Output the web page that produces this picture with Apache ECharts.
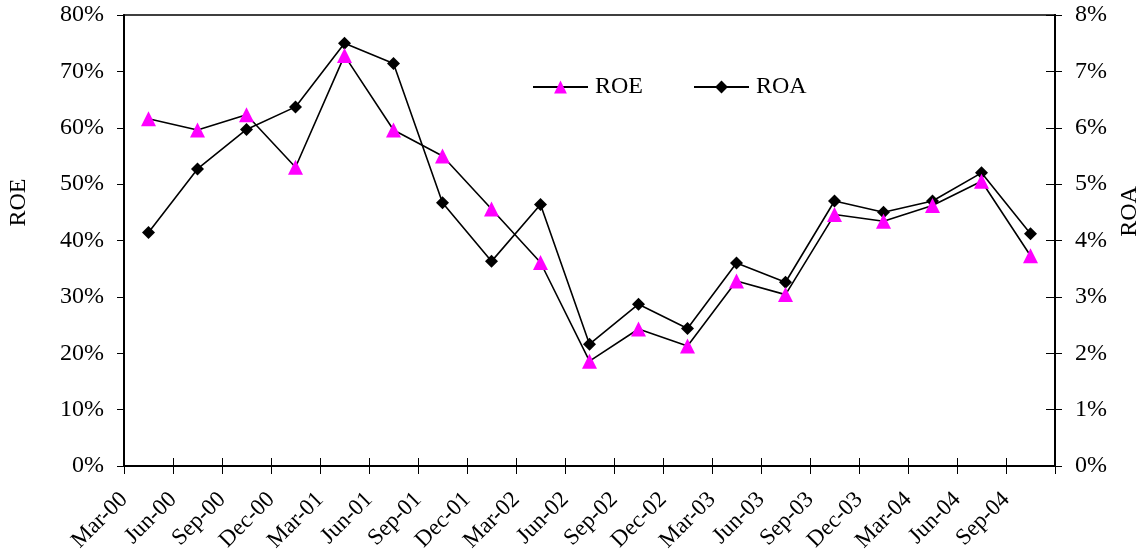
<!DOCTYPE html>
<html>
<head>
<meta charset="utf-8">
<script src="https://cdn.jsdelivr.net/npm/echarts@6/dist/echarts.min.js"></script>
<style>
html,body{margin:0;padding:0;background:#fff;}
#c{width:1147px;height:560px;}
</style>
</head>
<body>
<div id="c"></div>
<script>
const categories = ['Mar-00','Jun-00','Sep-00','Dec-00','Mar-01','Jun-01','Sep-01','Dec-01','Mar-02','Jun-02','Sep-02','Dec-02','Mar-03','Jun-03','Sep-03','Dec-03','Mar-04','Jun-04','Sep-04'];
const roe = [61.6, 59.6, 62.3, 53.0, 72.8, 59.6, 55.0, 45.6, 36.1, 18.6, 24.3, 21.3, 32.8, 30.4, 44.6, 43.4, 46.2, 50.5, 37.3];
const roa = [4.14, 5.27, 5.97, 6.37, 7.50, 7.14, 4.67, 3.63, 4.64, 2.16, 2.87, 2.44, 3.60, 3.26, 4.70, 4.50, 4.70, 5.20, 4.12];
const roeTicks = {min: 0, max: 80, interval: 10};
const roaTicks = {min: 0, max: 8, interval: 1};

const font = '"Liberation Serif", "Times New Roman", Times, serif';
const chart = echarts.init(document.getElementById('c'));
chart.setOption({
  animation: false,
  backgroundColor: '#fff',
  textStyle: {fontFamily: font, color: '#000'},
  grid: {left: 124, right: 92, top: 15, bottom: 94, containLabel: false, outerBoundsMode: 'none',
         show: true, borderColor: '#000', borderWidth: 1.5, backgroundColor: 'transparent'},
  legend: {
    left: 527, top: 70, itemWidth: 55, itemHeight: 16, itemGap: 50,
    textStyle: {fontFamily: font, fontSize: 24, color: '#000', padding: [0,0,0,2]},
    data: ['ROE', 'ROA']
  },
  xAxis: [
    {
      type: 'category', data: categories, boundaryGap: true, position: 'bottom',
      axisLine: {show: true, lineStyle: {color: '#000', width: 2}},
      axisTick: {show: true, inside: true, length: 8, lineStyle: {color: '#000', width: 1}},
      axisLabel: {show: false}, splitLine: {show: false}
    },
    {
      type: 'value', min: 0, max: categories.length, interval: 1, position: 'bottom',
      axisLine: {show: true, lineStyle: {color: '#000', width: 2}},
      axisTick: {show: true, inside: false, length: 8, lineStyle: {color: '#000', width: 1}},
      axisLabel: {
        show: true, rotate: 45, margin: 30, fontFamily: font, fontSize: 23, color: '#000',
        formatter: v => categories[v] || ''
      },
      splitLine: {show: false}
    }
  ],
  yAxis: [
    {
      type: 'value', position: 'left', min: roeTicks.min, max: roeTicks.max, interval: roeTicks.interval,
      name: 'ROE', nameLocation: 'middle', nameRotate: 90, nameGap: 93,
      nameTextStyle: {fontFamily: font, fontSize: 24, color: '#000', padding: [0,0,0,76]},
      axisLine: {show: true, lineStyle: {color: '#000', width: 2}},
      axisTick: {show: true, inside: false, length: 7, lineStyle: {color: '#000', width: 1}},
      axisLabel: {margin: 20, fontFamily: font, fontSize: 24, color: '#000', formatter: v => v + '%'},
      splitLine: {show: false}
    },
    {
      type: 'value', position: 'right', min: roaTicks.min, max: roaTicks.max, interval: roaTicks.interval,
      name: 'ROA', nameLocation: 'middle', nameRotate: 90, nameGap: 62,
      nameTextStyle: {fontFamily: font, fontSize: 24, color: '#000', padding: [0,0,0,58]},
      axisLine: {show: true, lineStyle: {color: '#000', width: 2}},
      axisTick: {show: true, inside: false, length: 7, lineStyle: {color: '#000', width: 1}},
      axisLabel: {margin: 20, fontFamily: font, fontSize: 24, color: '#000', formatter: v => v + '%'},
      splitLine: {show: false}
    },
    {
      type: 'value', position: 'right', min: roaTicks.min, max: roaTicks.max, interval: roaTicks.interval,
      axisLine: {show: true, lineStyle: {color: '#000', width: 2}},
      axisTick: {show: true, inside: true, length: 9, lineStyle: {color: '#000', width: 1}},
      axisLabel: {show: false},
      splitLine: {show: false}
    }
  ],
  series: [
    {
      name: 'ROE', type: 'line', data: roe, xAxisIndex: 0, yAxisIndex: 0,
      symbol: 'triangle', symbolSize: 15, showAllSymbol: true,
      lineStyle: {color: '#000', width: 1.6},
      itemStyle: {color: '#FF00FF', borderWidth: 0},
      emphasis: {disabled: true}, z: 3
    },
    {
      name: 'ROA', type: 'line', data: roa, xAxisIndex: 0, yAxisIndex: 1,
      symbol: 'diamond', symbolSize: 13, showAllSymbol: true,
      lineStyle: {color: '#000', width: 1.6},
      itemStyle: {color: '#000', borderWidth: 0},
      emphasis: {disabled: true}, z: 2
    }
  ]
});
</script>
</body>
</html>
